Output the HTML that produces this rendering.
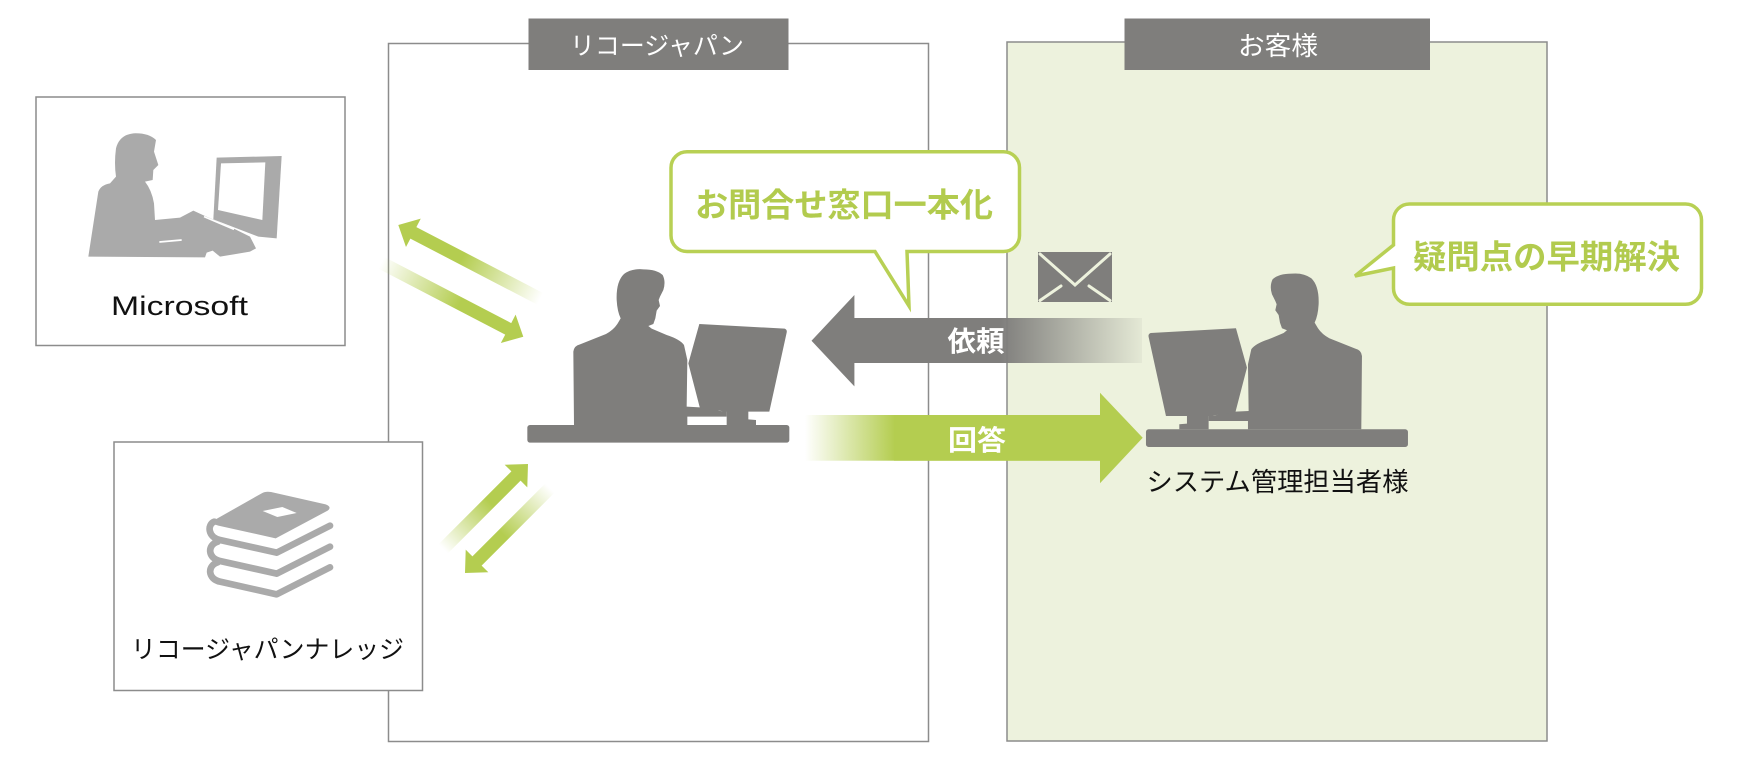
<!DOCTYPE html>
<html>
<head>
<meta charset="utf-8">
<style>
  html,body{margin:0;padding:0;background:#ffffff;}
  svg{display:block;}
  .jp{font-family:"Liberation Sans","Noto Sans CJK JP",sans-serif;}
</style>
</head>
<body>
<svg width="1740" height="760" viewBox="0 0 1740 760" xmlns="http://www.w3.org/2000/svg">
  <defs>
    <linearGradient id="grayFade" gradientUnits="userSpaceOnUse" x1="1000" y1="0" x2="1142" y2="0">
      <stop offset="0" stop-color="#7f7e7c" stop-opacity="1"/>
      <stop offset="1" stop-color="#7f7e7c" stop-opacity="0.08"/>
    </linearGradient>
    <linearGradient id="greenFade" gradientUnits="userSpaceOnUse" x1="805" y1="0" x2="895" y2="0">
      <stop offset="0" stop-color="#b4cd50" stop-opacity="0"/>
      <stop offset="1" stop-color="#b4cd50" stop-opacity="1"/>
    </linearGradient>
    <linearGradient id="diag160" gradientUnits="userSpaceOnUse" x1="-160" y1="0" x2="0" y2="0">
      <stop offset="0" stop-color="#b4cd50" stop-opacity="0"/>
      <stop offset="0.55" stop-color="#b4cd50" stop-opacity="1"/>
      <stop offset="1" stop-color="#b4cd50" stop-opacity="1"/>
    </linearGradient>
    <linearGradient id="diag120" gradientUnits="userSpaceOnUse" x1="-120" y1="0" x2="0" y2="0">
      <stop offset="0" stop-color="#b4cd50" stop-opacity="0"/>
      <stop offset="0.55" stop-color="#b4cd50" stop-opacity="1"/>
      <stop offset="1" stop-color="#b4cd50" stop-opacity="1"/>
    </linearGradient>
    <g id="person">
      <g transform="translate(500,250) scale(0.333333)" fill="#7f7e7c">
        <rect x="82" y="525" width="786" height="53" rx="8"/>
        <path d="M222,525 L220,305 Q222,287 240,283 L318,252 Q340,240 352,222 L362,205 Q352,185 350,150 Q348,95 372,72 Q395,55 430,58 Q470,58 488,75 Q498,95 490,120 L480,140 L476,150 L480,168 L470,182 L466,205 L460,222 L445,228 L455,236 L500,255 Q540,268 552,285 L562,330 L560,470 L600,472 Q640,470 650,480 Q665,487 680,480 L680,500 L562,500 L562,525 Z"/>
        <path d="M598,222 L854,236 Q862,239 860,248 L808,485 L745,485 L745,508 L768,510 L768,525 L680,525 L680,485 L600,475 L565,340 Z"/>
      </g>
    </g>
  </defs>

  <!-- Customer box -->
  <rect x="1007" y="42" width="540" height="699" fill="#edf2dd" stroke="#8c8c8c" stroke-width="1.5"/>
  <!-- Ricoh box -->
  <rect x="388.5" y="43.5" width="540" height="698" fill="none" stroke="#8c8c8c" stroke-width="1.5"/>

  <!-- Tabs -->
  <rect x="528.5" y="18.5" width="260" height="51.5" fill="#7f7e7c"/>
  <text class="jp" x="657" y="54.5" font-size="25" fill="#ffffff" text-anchor="middle" textLength="174" lengthAdjust="spacingAndGlyphs">リコージャパン</text>
  <rect x="1124.5" y="18.5" width="305.5" height="51.5" fill="#7f7e7c"/>
  <text class="jp" x="1278" y="55" font-size="26" fill="#ffffff" text-anchor="middle" textLength="80" lengthAdjust="spacingAndGlyphs">お客様</text>

  <!-- Microsoft box -->
  <rect x="36" y="97" width="309" height="248.5" fill="#ffffff" stroke="#8c8c8c" stroke-width="1.5"/>
  <g transform="translate(80,120) scale(0.333333)" fill="#aaaaaa">
    <path d="M410,113 L605,108 L590,355 L535,350 L400,298 Z"/>
    <path d="M423,130 L556,127 L547,300 L414,270 Z" fill="#ffffff"/>
    <path d="M25,410 L55,215 Q62,195 90,190 L108,170 Q102,130 108,85 Q118,45 160,40 Q205,38 228,60 L222,95 L235,135 L220,150 L218,180 L195,185 Q215,210 222,250 L225,300 L300,293 L340,272 L375,288 L460,325 L510,350 L528,385 L510,395 L420,410 L398,392 L380,398 L375,412 Z"/>
    <path d="M372,290 L462,328" stroke="#ffffff" stroke-width="5" fill="none"/>
    <path d="M238,366 L305,360" stroke="#ffffff" stroke-width="5" fill="none"/>
  </g>
  <text x="179.5" y="315" font-family="Liberation Sans, sans-serif" font-size="27" fill="#111111" text-anchor="middle" textLength="137" lengthAdjust="spacingAndGlyphs">Microsoft</text>

  <!-- Knowledge box -->
  <rect x="114" y="442" width="308.5" height="248.5" fill="#ffffff" stroke="#8c8c8c" stroke-width="1.5"/>
  <g transform="translate(195,485) scale(0.333333)">
    <path d="M50,110 L200,25 Q212,18 228,21 L392,58 Q412,66 398,77 L242,160 L70,122 Q55,118 50,110 Z" fill="#aaaaaa"/>
    <polygon points="203,78 262,66 305,84 247,96" fill="#ffffff"/>
    <g fill="none" stroke="#aaaaaa" stroke-width="20" stroke-linecap="round" stroke-linejoin="round">
      <path d="M405,122 L245,203 L75,165 C38,157 36,118 58,110"/>
      <path d="M405,185 L245,266 L75,228 C38,220 36,180 68,170"/>
      <path d="M405,247 L245,328 L75,290 C38,282 36,242 68,232"/>
    </g>
  </g>
  <text class="jp" x="267.5" y="657.8" font-size="25" fill="#111111" text-anchor="middle" textLength="273" lengthAdjust="spacingAndGlyphs">リコージャパンナレッジ</text>

  <!-- Diagonal arrows -->
  <polygon transform="translate(398.3,225) rotate(207.5)" points="0,0 -17,-16 -17,-6.5 -160,-6.5 -160,6.5 -17,6.5 -17,16" fill="url(#diag160)"/>
  <polygon transform="translate(523.3,336.7) rotate(27.5)" points="0,0 -17,-16 -17,-6.5 -160,-6.5 -160,6.5 -17,6.5 -17,16" fill="url(#diag160)"/>
  <polygon transform="translate(528,464) rotate(-45)" points="0,0 -17,-16 -17,-6.5 -120,-6.5 -120,6.5 -17,6.5 -17,16" fill="url(#diag120)"/>
  <polygon transform="translate(465,573) rotate(135)" points="0,0 -17,-16 -17,-6.5 -120,-6.5 -120,6.5 -17,6.5 -17,16" fill="url(#diag120)"/>

  <!-- Persons -->
  <use href="#person"/>
  <use href="#person" transform="translate(1935.3,4.3) scale(-1,1)"/>
  <text class="jp" x="1277.5" y="491.2" font-size="26" fill="#111111" text-anchor="middle" textLength="262" lengthAdjust="spacingAndGlyphs">システム管理担当者様</text>

  <!-- Gray arrow (依頼) -->
  <polygon points="811.5,340.7 854.4,295 854.4,318 1000,318 1000,363 854.4,363 854.4,386.4" fill="#7f7e7c"/>
  <rect x="999.5" y="318" width="142.5" height="45" fill="url(#grayFade)"/>
  <text class="jp" x="976" y="351" font-size="28" font-weight="700" fill="#ffffff" text-anchor="middle" textLength="57" lengthAdjust="spacingAndGlyphs">依頼</text>

  <!-- Green arrow (回答) -->
  <rect x="805" y="415" width="296" height="45.7" fill="url(#greenFade)"/>
  <polygon points="1100,392.7 1142.7,437.8 1100,483.3" fill="#b4cd50"/>
  <rect x="894" y="415" width="207" height="45.7" fill="#b4cd50"/>
  <text class="jp" x="977" y="450" font-size="28" font-weight="700" fill="#ffffff" text-anchor="middle" textLength="58" lengthAdjust="spacingAndGlyphs">回答</text>

  <!-- Envelope -->
  <rect x="1038" y="252" width="74" height="50" fill="#7f7e7c"/>
  <g stroke="#edf2dd" stroke-width="3" fill="none" stroke-linecap="round">
    <polyline points="1040,254 1075,285 1110,254"/>
    <line x1="1040" y1="300.5" x2="1061" y2="286"/>
    <line x1="1110" y1="300.5" x2="1089" y2="286"/>
  </g>

  <!-- Bubble 1 -->
  <path d="M687,151.7 H1003.5 A16,16 0 0 1 1019.5,167.7 V235.5 A16,16 0 0 1 1003.5,251.5 H907 L909,306 L875,251.5 H687 A16,16 0 0 1 671,235.5 V167.7 A16,16 0 0 1 687,151.7 Z" fill="#ffffff" stroke="#b8d054" stroke-width="3.5" stroke-linejoin="miter"/>
  <text class="jp" x="844" y="216.5" font-size="33" font-weight="700" fill="#b2cb4e" text-anchor="middle" textLength="298" lengthAdjust="spacingAndGlyphs">お問合せ窓口一本化</text>

  <!-- Bubble 2 -->
  <path d="M1409.5,204 H1685.5 A16,16 0 0 1 1701.5,220 V288.3 A16,16 0 0 1 1685.5,304.3 H1409.5 A16,16 0 0 1 1393.5,288.3 V268 L1355,276 L1393.5,245 V220 A16,16 0 0 1 1409.5,204 Z" fill="#ffffff" stroke="#b8d054" stroke-width="3.5" stroke-linejoin="miter"/>
  <text class="jp" x="1546.5" y="268.7" font-size="33" font-weight="700" fill="#b2cb4e" text-anchor="middle" textLength="267" lengthAdjust="spacingAndGlyphs">疑問点の早期解決</text>
</svg>
</body>
</html>
